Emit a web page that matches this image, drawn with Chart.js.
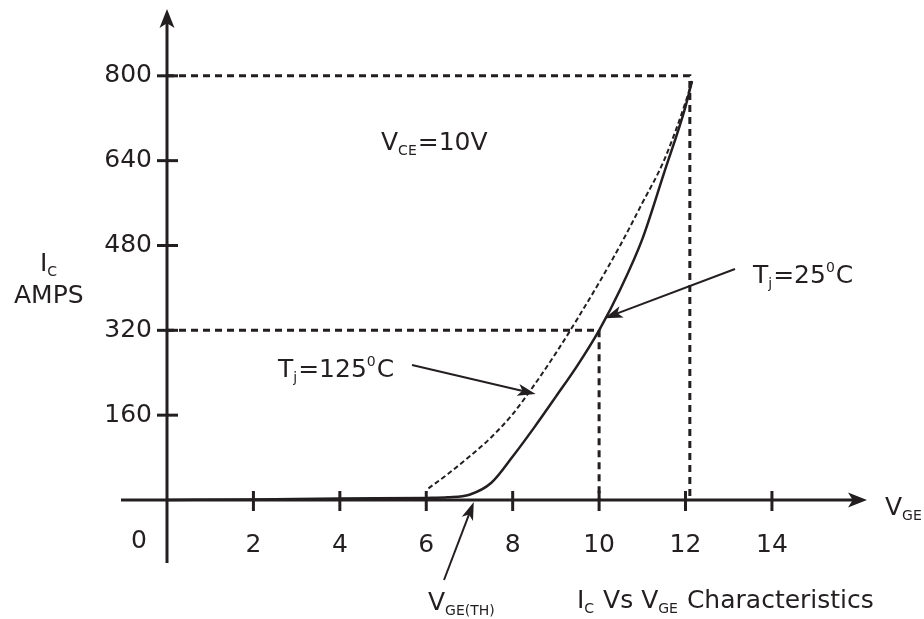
<!DOCTYPE html>
<html>
<head>
<meta charset="utf-8">
<script src="https://cdn.jsdelivr.net/npm/chart.js@4.4.1/dist/chart.umd.min.js"></script>
<style>
  html, body { margin: 0; padding: 0; background: #fff; }
  #chart { display: block; }
</style>
</head>
<body>
<canvas id="chart" width="924" height="619"></canvas>
<script>
(function () {
    "use strict";

    // Tick labels
    var vgeTicks = [2, 4, 6, 8, 10, 12, 14];
    var icTicks = [160, 320, 480, 640, 800];

    // Tj = 25C (solid curve)
    var vge25 = [0, 2, 4, 6, 6.5, 7, 7.5, 8, 8.5, 9, 9.5, 10, 10.5, 11, 11.5, 12, 12.15];
    var ic25 = [0, 1, 3, 4, 5, 10, 32, 82, 137, 195, 254, 320, 399, 492, 616, 742, 790];

    // Tj = 125C (dashed curve)
    var vge125 = [6.05, 6.5, 7, 7.5, 8, 8.5, 9, 9.5, 10, 10.5, 11, 11.5, 12, 12.15];
    var ic125 = [22, 49, 82, 118, 162, 217, 277, 342, 410, 482, 560, 640, 750, 790];

    // Dashed guide lines (800 A at 12.1 V, 320 A at 10 V)
    var guideVgeHigh = [0, 12.1, 12.1];
    var guideIcHigh = [800, 800, 0];
    var guideVgeLow = [0, 10, 10];
    var guideIcLow = [320, 320, 0];

    var ink = '#231f20';
    var family = '"DejaVu Sans", Verdana, sans-serif';

    function points(xs, ys) {
        return xs.map(function (x, i) { return { x: x, y: ys[i] }; });
    }

    function line(ctx, x1, y1, x2, y2) {
        ctx.beginPath();
        ctx.moveTo(x1, y1);
        ctx.lineTo(x2, y2);
        ctx.stroke();
    }

    // filled arrow head with a small notch at the back
    function arrowHead(ctx, tx, ty, fx, fy, len, half) {
        var a = Math.atan2(ty - fy, tx - fx);
        var c = Math.cos(a), s = Math.sin(a);
        var bx = tx - c * len, by = ty - s * len;
        var nx = tx - c * len * 0.75, ny = ty - s * len * 0.75;
        ctx.beginPath();
        ctx.moveTo(tx, ty);
        ctx.lineTo(bx - s * half, by + c * half);
        ctx.lineTo(nx, ny);
        ctx.lineTo(bx + s * half, by - c * half);
        ctx.closePath();
        ctx.fill();
    }

    function arrow(ctx, fx, fy, tx, ty) {
        var a = Math.atan2(ty - fy, tx - fx);
        ctx.lineWidth = 2;
        line(ctx, fx, fy, tx - Math.cos(a) * 12, ty - Math.sin(a) * 12);
        arrowHead(ctx, tx, ty, fx, fy, 18, 6);
    }

    // text with subscripts / superscripts
    function rich(ctx, x, y, parts) {
        parts.forEach(function (p) {
            var small = p.length > 1;
            var dy = p[1] === 'sub' ? 5 : (p[1] === 'sup' ? -11 : 0);
            ctx.font = (small ? 14 : 25) + 'px ' + family;
            ctx.fillText(p[0], x, y + dy);
            x += ctx.measureText(p[0]).width + (small ? 1 : 0);
        });
    }

    var diagram = {
        id: 'diagram',
        afterDatasetsDraw: function (chart) {
            var ctx = chart.ctx, area = chart.chartArea;
            var xs = chart.scales.x, ys = chart.scales.y;
            var ox = xs.getPixelForValue(0), oy = ys.getPixelForValue(0);

            ctx.save();
            ctx.strokeStyle = ink;
            ctx.fillStyle = ink;
            ctx.lineCap = 'butt';

            // Axes with arrows
            ctx.lineWidth = 3;
            line(ctx, ox, oy + 63, ox, area.top + 12);
            line(ctx, ox - 46, oy, area.right - 12, oy);
            arrowHead(ctx, ox, area.top, ox, oy, 19, 7.5);
            arrowHead(ctx, area.right, oy, ox, oy, 19, 7.5);

            // Tick marks crossing the axes
            xs.ticks.forEach(function (t) {
                var px = xs.getPixelForValue(t.value);
                line(ctx, px, oy - 9, px, oy + 11);
            });
            ys.ticks.forEach(function (t) {
                var py = ys.getPixelForValue(t.value);
                line(ctx, ox - 10, py, ox + 11, py);
            });

            // Labels
            ctx.textAlign = 'left';
            ctx.textBaseline = 'alphabetic';
            rich(ctx, 40, 271, [['I'], ['C', 'sub']]);
            rich(ctx, 14, 303, [['AMPS']]);
            rich(ctx, 381, 150, [['V'], ['CE', 'sub'], ['=10V']]);
            rich(ctx, 753, 283, [['T'], ['j', 'sub'], ['=25'], ['0', 'sup'], ['C']]);
            rich(ctx, 278, 377, [['T'], ['j', 'sub'], ['=125'], ['0', 'sup'], ['C']]);
            rich(ctx, 428, 610, [['V'], ['GE(TH)', 'sub']]);
            rich(ctx, 577, 608, [['I'], ['C', 'sub'], [' Vs V'], ['GE', 'sub'], [' Characteristics']]);
            rich(ctx, 885, 515, [['V'], ['GE', 'sub']]);
            ctx.textAlign = 'center';
            ctx.font = '25px ' + family;
            ctx.fillText('0', ox - 28, oy + 48);

            // Pointer arrows
            arrow(ctx, 735, 269, xs.getPixelForValue(10.13), ys.getPixelForValue(343));
            arrow(ctx, 412, 365, xs.getPixelForValue(8.53), ys.getPixelForValue(200));
            arrow(ctx, 444, 580, xs.getPixelForValue(7.1), ys.getPixelForValue(0) + 2);

            ctx.restore();
        }
    };

    var tickFont = { family: family, size: 25 };

    function noPadding(s) {
        s.paddingTop = 0;
        s.paddingBottom = 0;
        s.paddingLeft = 0;
        s.paddingRight = 0;
    }

    new Chart(document.getElementById('chart').getContext('2d'), {
        type: 'line',
        data: {
            datasets: [
                { data: points(guideVgeHigh, guideIcHigh), borderColor: ink, borderWidth: 3, borderDash: [7, 5], tension: 0 },
                { data: points(guideVgeLow, guideIcLow), borderColor: ink, borderWidth: 3, borderDash: [7, 5], tension: 0 },
                { data: points(vge125, ic125), borderColor: ink, borderWidth: 2, borderDash: [5, 3], cubicInterpolationMode: 'monotone' },
                { data: points(vge25, ic25), borderColor: ink, borderWidth: 2.5, cubicInterpolationMode: 'monotone' }
            ]
        },
        options: {
            responsive: false,
            animation: false,
            devicePixelRatio: 1,
            layout: { padding: { top: 9, right: 57, left: 0, bottom: 0 } },
            elements: { point: { radius: 0 }, line: { fill: false } },
            datasets: { line: { clip: false } },
            plugins: { legend: { display: false }, tooltip: { enabled: false } },
            scales: {
                x: {
                    type: 'linear',
                    min: 0,
                    max: 16.2,
                    grid: { display: false, drawTicks: false },
                    border: { display: false },
                    ticks: { color: ink, font: tickFont, padding: 30, autoSkip: false, maxRotation: 0 },
                    afterBuildTicks: function (s) { s.ticks = vgeTicks.map(function (v) { return { value: v }; }); },
                    afterFit: function (s) { s.height = 119; noPadding(s); }
                },
                y: {
                    type: 'linear',
                    min: 0,
                    max: 926,
                    grid: { display: false, drawTicks: false },
                    border: { display: false },
                    ticks: { color: ink, font: tickFont, padding: 15, autoSkip: false },
                    afterBuildTicks: function (s) { s.ticks = icTicks.map(function (v) { return { value: v }; }); },
                    afterFit: function (s) { s.width = 167; noPadding(s); }
                }
            }
        },
        plugins: [diagram]
    });
})();
</script>
</body>
</html>
